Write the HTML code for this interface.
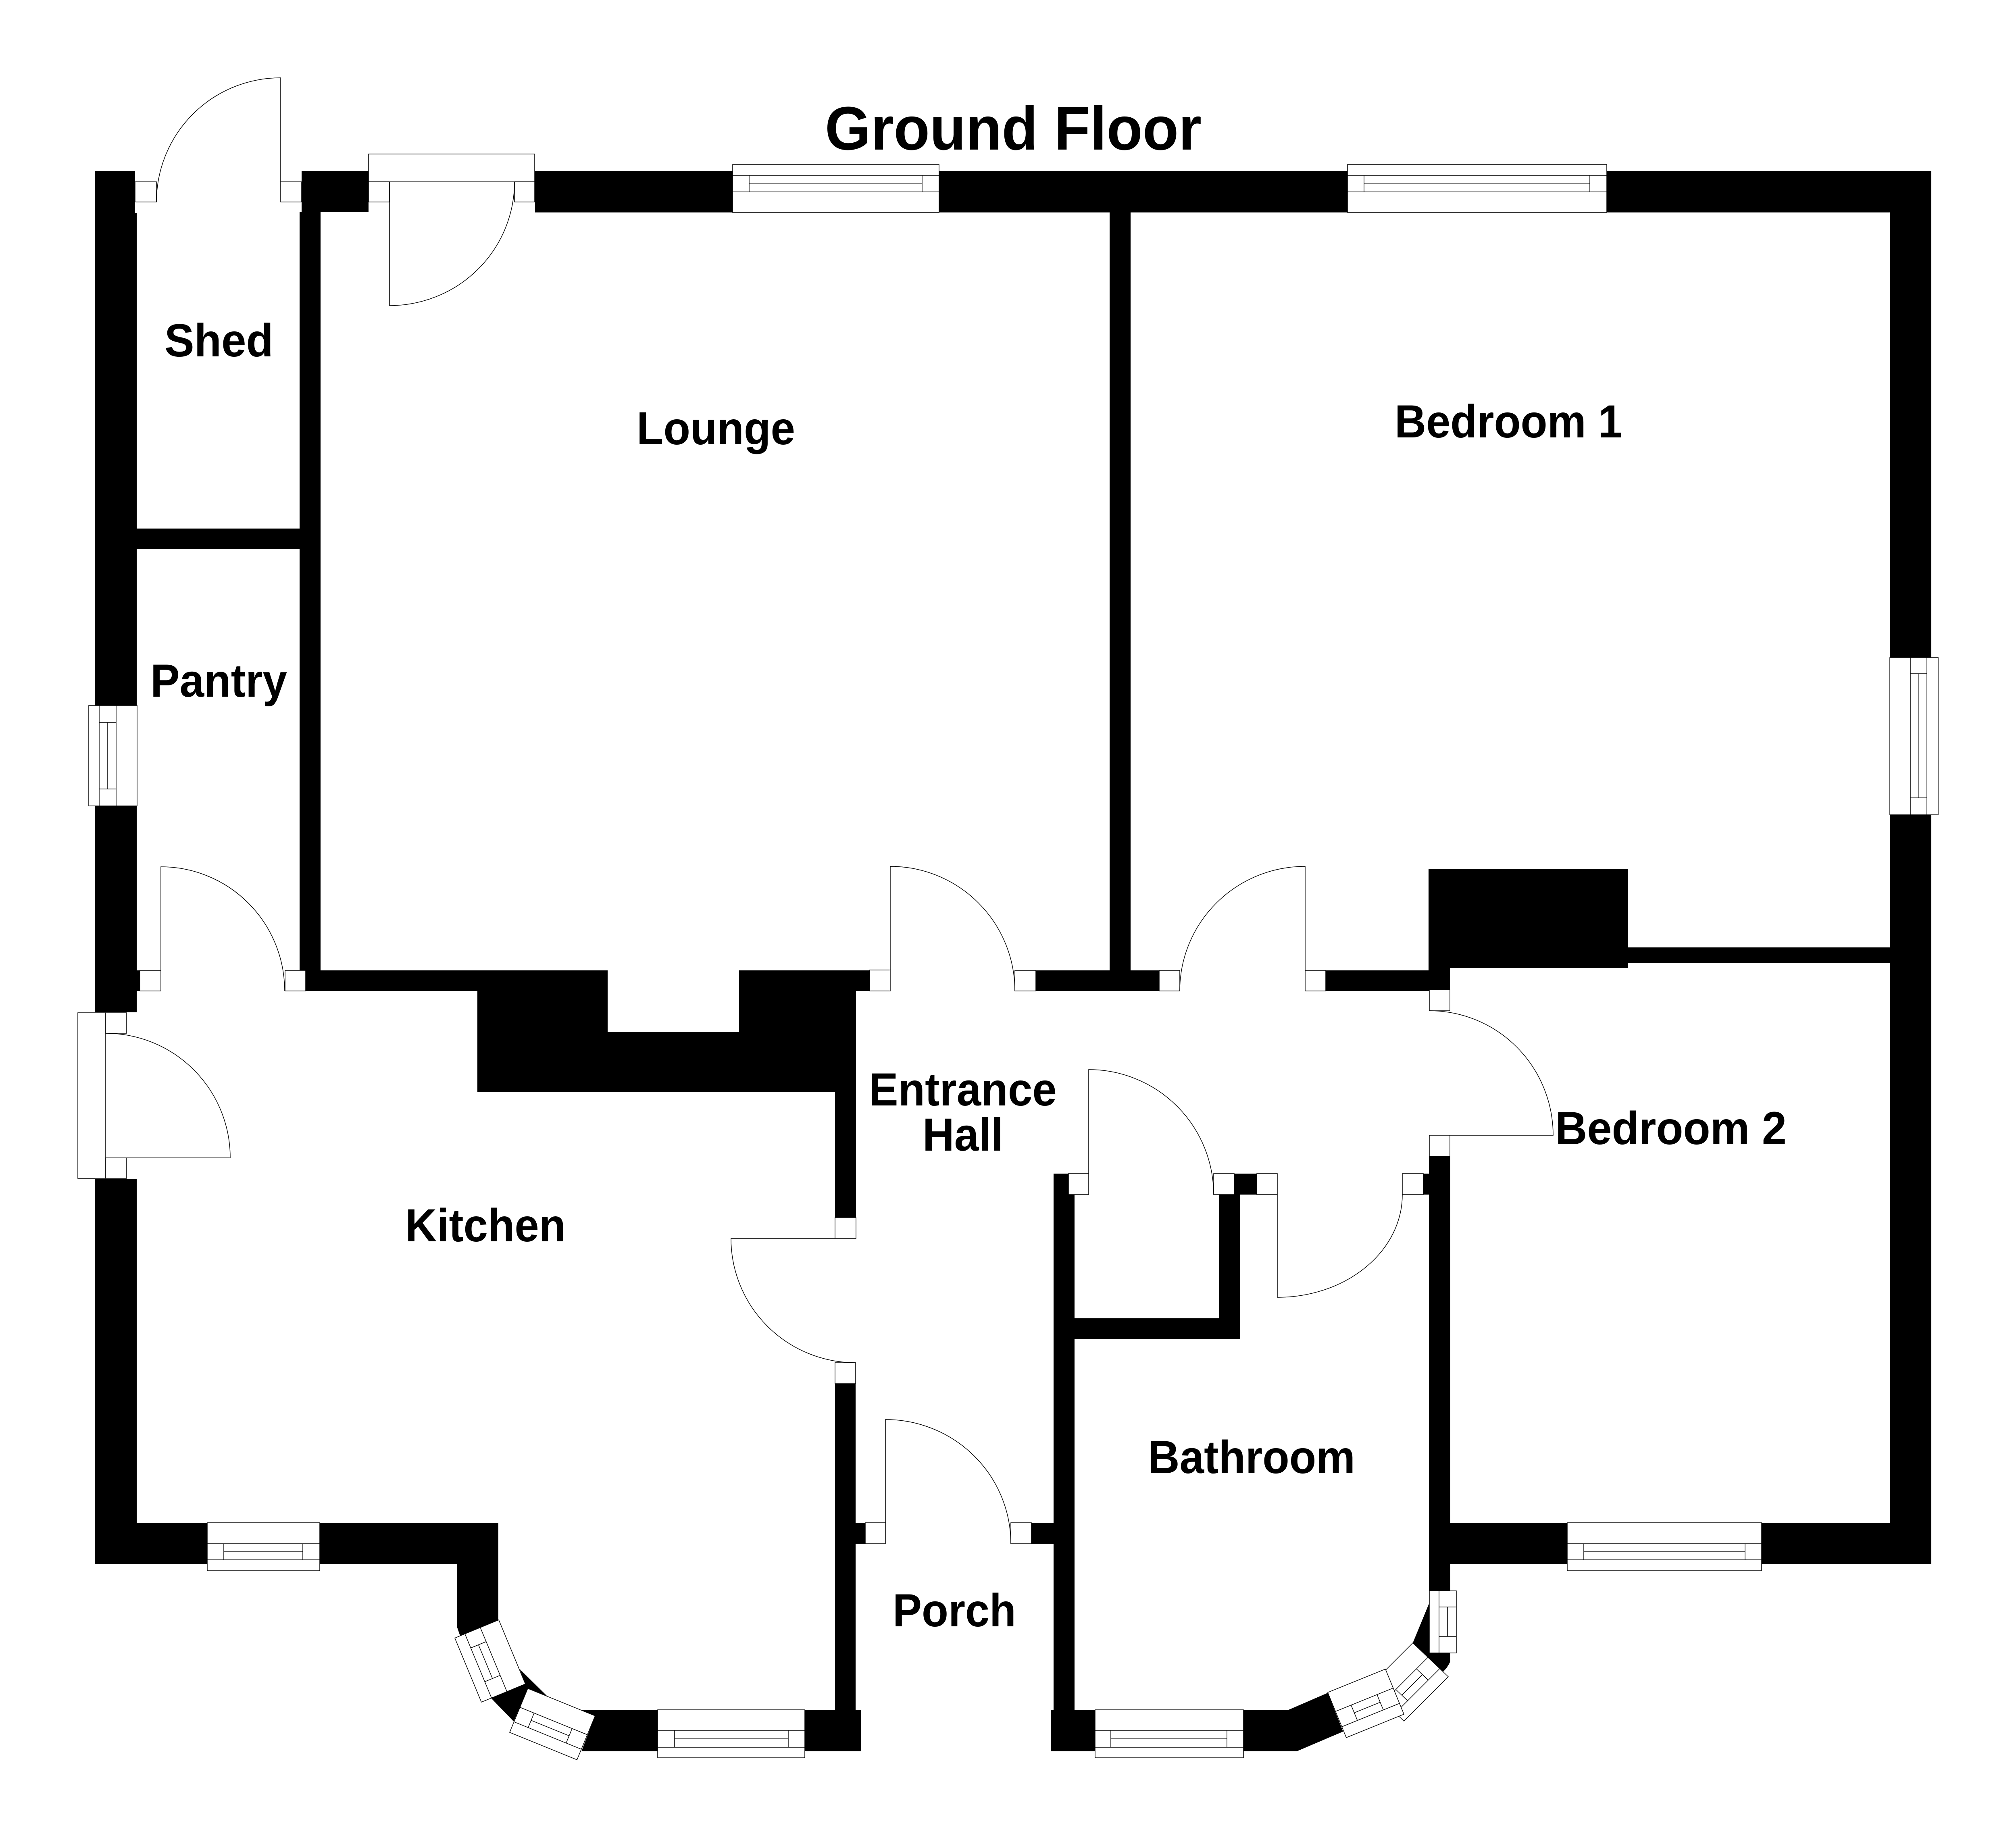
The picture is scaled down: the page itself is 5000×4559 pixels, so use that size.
<!DOCTYPE html>
<html><head><meta charset="utf-8"><title>Ground Floor</title>
<style>html,body{margin:0;padding:0;background:#fff}svg{display:block}
text{font-family:"Liberation Sans",Arial,sans-serif;font-weight:bold;fill:#000}</style></head>
<body>
<svg xmlns="http://www.w3.org/2000/svg" width="5000" height="4559" viewBox="0 0 5000 4559">
<rect width="5000" height="4559" fill="#fff"/>
<g fill="#000">
<rect x="236" y="424" width="99" height="104"/>
<rect x="236" y="528" width="103" height="1983"/>
<rect x="236" y="2924" width="103" height="956"/>
<rect x="748" y="424" width="166" height="102"/>
<rect x="1327" y="424" width="3463" height="103"/>
<rect x="743" y="526" width="52" height="1932"/>
<rect x="339" y="1311" width="404" height="51"/>
<rect x="339" y="2407" width="8" height="51"/>
<rect x="758" y="2407" width="749" height="51"/>
<rect x="1833" y="2407" width="324" height="51"/>
<path d="M1184 2407H1507V2560H1833V2407H2123V2709H1184Z"/>
<rect x="2071" y="2700" width="52" height="320"/>
<rect x="2071" y="3432" width="51" height="809"/>
<rect x="2122" y="3777" width="24" height="52"/>
<rect x="2752" y="526" width="52" height="1881"/>
<rect x="2569" y="2407" width="306" height="51"/>
<rect x="3288" y="2407" width="308" height="51"/>
<rect x="3543" y="2155" width="494" height="246"/>
<rect x="3543" y="2401" width="53" height="54"/>
<rect x="4037" y="2350" width="650" height="39"/>
<rect x="4687" y="424" width="103" height="3456"/>
<rect x="3544" y="2868" width="53" height="1110"/>
<path d="M3544 3978L3504 4075L3572 4141L3579 4147L3588 4137L3594 4127L3597 4121V3978Z"/>
<rect x="3596" y="3777" width="1194" height="103"/>
<rect x="2613" y="2911" width="37" height="52"/>
<rect x="2613" y="2963" width="52" height="1278"/>
<rect x="2558" y="3777" width="55" height="52"/>
<rect x="3061" y="2911" width="56" height="52"/>
<rect x="3024" y="2963" width="51" height="358"/>
<rect x="2665" y="3270" width="410" height="51"/>
<rect x="3530" y="2911" width="14" height="52"/>
<rect x="236" y="3777" width="1000" height="103"/>
<path d="M1133 3880H1236V4018L1142 4060L1133 4034Z"/>
<path d="M1289 4140L1357 4207L1309 4188L1274 4270L1218 4212L1303 4177Z"/>
<path d="M1440 4241H2136V4344H1442L1476 4256Z"/>
<path d="M2606 4241H3196L3293 4199L3331 4295L3216 4344H2606Z"/>
</g>
<g fill="#fff" stroke="#000" stroke-width="1.5">
<!-- doors -->
<rect x="914" y="382" width="412" height="69"/>
<rect x="335" y="451" width="53" height="50"/>
<rect x="696" y="451" width="52" height="50"/>
<path d="M696 451V193A308 308 0 0 0 388 501" fill="none"/>
<rect x="914" y="451" width="52" height="50"/>
<rect x="1276" y="451" width="50" height="50"/>
<path d="M966 451V758A310 307 0 0 0 1276 451" fill="none"/>
<rect x="347" y="2407" width="52" height="51"/>
<rect x="707" y="2407" width="51" height="51"/>
<path d="M399 2407V2150A307 308 0 0 1 706 2458" fill="none"/>
<rect x="193" y="2512" width="69" height="411"/>
<rect x="262" y="2512" width="52" height="51"/>
<rect x="262" y="2872" width="52" height="51"/>
<path d="M262 2563A309 309 0 0 1 571 2872H314" fill="none"/>
<rect x="2157" y="2406" width="51" height="52"/>
<path d="M2208 2406V2149A309 309 0 0 1 2517 2458" fill="none"/>
<rect x="2517" y="2407" width="52" height="51"/>
<rect x="2875" y="2407" width="51" height="51"/>
<rect x="3237" y="2407" width="51" height="51"/>
<path d="M3237 2407V2149A311 309 0 0 0 2926 2458" fill="none"/>
<rect x="3545" y="2455" width="51" height="52"/>
<rect x="3545" y="2816" width="51" height="52"/>
<path d="M3545 2507A307 309 0 0 1 3852 2816H3596" fill="none"/>
<rect x="2071" y="3020" width="52" height="52"/>
<rect x="2071" y="3380" width="51" height="52"/>
<path d="M2071 3072H1813A309 308 0 0 0 2122 3380" fill="none"/>
<rect x="2146" y="3777" width="50" height="52"/>
<rect x="2507" y="3777" width="51" height="52"/>
<path d="M2196 3777V3521A311 308 0 0 1 2507 3829" fill="none"/>
<rect x="2650" y="2911" width="50" height="52"/>
<rect x="3010" y="2911" width="51" height="52"/>
<path d="M2700 2911V2653A310 310 0 0 1 3010 2963" fill="none"/>
<rect x="3117" y="2911" width="51" height="52"/>
<rect x="3478" y="2911" width="52" height="52"/>
<path d="M3168 2963V3218A310 255 0 0 0 3478 2963" fill="none"/>
<!-- axis windows -->
<path d="M1817 408H2329V527H1817ZM1817 435H2329M1817 476H2329M1858 435V476M2287 435V476M1858 456H2287"/>
<path d="M3342 408H3985V527H3342ZM3342 435H3985M3342 476H3985M3383 435V476M3943 435V476M3383 456H3943"/>
<path d="M4687 1631H4807V2021H4687ZM4738 1631V2021M4779 1631V2021M4738 1671H4779M4738 1979H4779M4759 1671V1979"/>
<path d="M220 1750H340V1999H220ZM246 1750V1999M288 1750V1999M246 1792H288M246 1957H288M267 1792V1957"/>
<path d="M514 3777H793V3896H514ZM514 3829H793M514 3869H793M555 3829V3869M751 3829V3869M555 3849H751"/>
<path d="M3887 3777H4369V3896H3887ZM3887 3829H4369M3887 3869H4369M3928 3829V3869M4328 3829V3869M3928 3849H4328"/>
<path d="M1631 4241H1996V4360H1631ZM1631 4292H1996M1631 4334H1996M1673 4292V4334M1955 4292V4334M1673 4313H1955"/>
<path d="M2716 4241H3084V4360H2716ZM2716 4292H3084M2716 4334H3084M2755 4292V4334M3043 4292V4334M2755 4313H3043"/>
<path d="M3545 3946H3612V4100H3545ZM3569 3946V4100M3569 3986H3612M3569 4059H3612M3590 3986V4059"/>
<!-- angled windows -->
<g transform="matrix(66 159 -109 45 1237 4018)"><path vector-effect="non-scaling-stroke" d="M0 0H1V1H0ZM0 .42H1M0 .77H1M.22 .42V.77M.746 .42V.77M.22 .595H.746"/></g>
<g transform="matrix(167 68 -45 109 1309 4188)"><path vector-effect="non-scaling-stroke" d="M0 0H1V1H0ZM0 .43H1M0 .76H1M.21 .43V.76M.774 .43V.76M.21 .595H.774"/></g>
<g transform="matrix(-110 110 88 84 3504 4075)"><path vector-effect="non-scaling-stroke" d="M0 0H1V1H0ZM0 .427H1M0 .76H1M.26 .427V.76M.725 .427V.76M.26 .595H.725"/></g>
<g transform="matrix(143 -58 46 112 3293 4198)"><path vector-effect="non-scaling-stroke" d="M0 0H1V1H0ZM0 .42H1M0 .76H1M.27 .42V.76M.72 .42V.76M.27 .59H.72"/></g>
</g>
<text transform="translate(2046 371) scale(1 1.045)" font-size="146" textLength="934" lengthAdjust="spacingAndGlyphs">Ground Floor</text>
<text transform="translate(408 884) scale(1 1.07)" font-size="108" textLength="270" lengthAdjust="spacingAndGlyphs">Shed</text>
<text transform="translate(373 1728) scale(1 1.07)" font-size="108" textLength="339" lengthAdjust="spacingAndGlyphs">Pantry</text>
<text transform="translate(1579 1102) scale(1 1.07)" font-size="108" textLength="393" lengthAdjust="spacingAndGlyphs">Lounge</text>
<text transform="translate(3459 1085) scale(1 1.07)" font-size="108" textLength="565" lengthAdjust="spacingAndGlyphs">Bedroom 1</text>
<text transform="translate(2155 2742) scale(1 1.07)" font-size="108" textLength="466" lengthAdjust="spacingAndGlyphs">Entrance</text>
<text transform="translate(2288 2854) scale(1 1.07)" font-size="108" textLength="200" lengthAdjust="spacingAndGlyphs">Hall</text>
<text transform="translate(1005 3079) scale(1 1.07)" font-size="108" textLength="398" lengthAdjust="spacingAndGlyphs">Kitchen</text>
<text transform="translate(3857 2838) scale(1 1.07)" font-size="108" textLength="574" lengthAdjust="spacingAndGlyphs">Bedroom 2</text>
<text transform="translate(2847 3654) scale(1 1.07)" font-size="108" textLength="514" lengthAdjust="spacingAndGlyphs">Bathroom</text>
<text transform="translate(2214 4034) scale(1 1.07)" font-size="108" textLength="306" lengthAdjust="spacingAndGlyphs">Porch</text>
</svg>
</body></html>
